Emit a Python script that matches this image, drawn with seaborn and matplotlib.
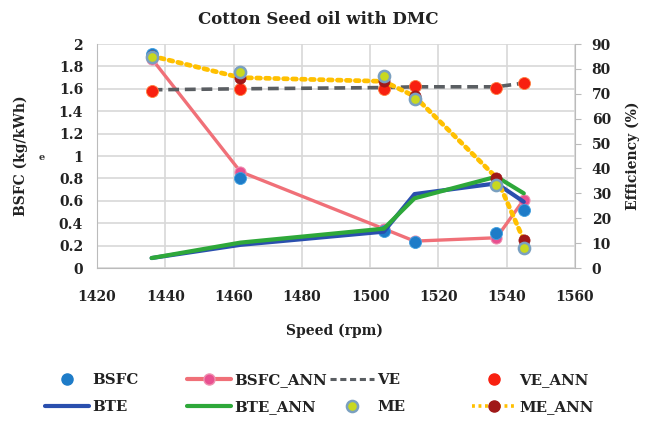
import matplotlib
matplotlib.use("Agg")
import matplotlib.pyplot as plt
import seaborn as sns
import pandas as pd
from matplotlib.lines import Line2D

speed = [1436, 1462, 1504, 1513, 1537, 1545]
bsfc = [1.91, 0.80, 0.33, 0.23, 0.31, 0.52]
bsfc_ann = [1.87, 0.86, 0.35, 0.24, 0.27, 0.61]
bte = [4.0, 9.3, 14.6, 29.7, 34.0, 26.6]
bte_ann = [4.0, 10.2, 15.8, 28.0, 36.7, 30.0]
ve = [71.6, 72.0, 72.5, 72.8, 72.8, 74.3]
ve_ann = [71.1, 72.0, 72.0, 73.0, 72.4, 74.4]
me = [84.9, 78.8, 77.0, 68.0, 33.4, 8.0]
me_ann = [85.2, 76.5, 75.0, 69.0, 36.3, 11.2]

df = pd.DataFrame(dict(speed=speed, bsfc=bsfc, bsfc_ann=bsfc_ann, bte=bte,
                       bte_ann=bte_ann, ve=ve, ve_ann=ve_ann, me=me, me_ann=me_ann))

sns.set_style("white")
plt.rcParams['font.family'] = ['DejaVu Serif']
plt.rcParams['font.weight'] = 'bold'

W, H = 646, 423
fig = plt.figure(figsize=(6.46, 4.23), dpi=100)
L, R, T, B = 97, 575, 44, 268
ax = fig.add_axes([L/W, 1-B/H, (R-L)/W, (B-T)/H])
ax2 = ax.twinx()

c_bsfc = "#1e7cc8"
c_bsfc_ann = "#f07078"
c_bsfc_ann_m = "#e85090"
c_ve = "#5a5e62"
c_ve_ann = "#f82010"
c_bte = "#2a4fae"
c_bte_ann = "#2ea83a"
c_me = "#c8d820"
c_me_edge = "#7aa0c0"
c_me_ann = "#ffc000"
c_me_ann_m = "#a01818"
txt = "#222222"

# left axis series
sns.lineplot(data=df, x="speed", y="bsfc_ann", ax=ax, color=c_bsfc_ann, lw=2.4, marker="o", markersize=8,
             markerfacecolor=c_bsfc_ann_m, markeredgecolor="#f090b0", zorder=3)
sns.scatterplot(data=df, x="speed", y="bsfc", ax=ax, color=c_bsfc, s=75, edgecolor="#40a0e0", linewidth=0.6, zorder=4)

# right axis series
sns.lineplot(data=df, x="speed", y="bte", ax=ax2, color=c_bte, lw=3.0, zorder=3)
sns.lineplot(data=df, x="speed", y="bte_ann", ax=ax2, color=c_bte_ann, lw=3.0, zorder=3)
sns.lineplot(data=df, x="speed", y="ve", ax=ax2, color=c_ve, lw=2.6, linestyle=(0, (3, 1.6)), zorder=3)
sns.scatterplot(data=df, x="speed", y="ve_ann", ax=ax2, color=c_ve_ann, s=75, edgecolor="#ff8040", linewidth=0.6, zorder=4)
sns.lineplot(data=df, x="speed", y="me_ann", ax=ax2, color=c_me_ann, lw=3.4, linestyle=(0, (0.8, 1.1)),
             dash_capstyle="round", zorder=4.2)
sns.scatterplot(data=df, x="speed", y="me_ann", ax=ax2, color=c_me_ann_m, s=65, edgecolor=c_me_ann_m, linewidth=0.5, zorder=4.5)
sns.scatterplot(data=df, x="speed", y="me", ax=ax2, color=c_me, s=65, edgecolor=c_me_edge, linewidth=1.8, zorder=5)

ax.set_xlim(1420, 1560)
ax.set_ylim(0, 2)
ax2.set_ylim(0, 90)
ax.set_xticks(range(1420, 1561, 20))
ax.set_yticks([i * 0.2 for i in range(11)])
ax.set_yticklabels(["0", "0.2", "0.4", "0.6", "0.8", "1", "1.2", "1.4", "1.6", "1.8", "2"])
ax2.set_yticks(range(0, 91, 10))

ax.grid(True, color="#d8d8d8", lw=1.2)
ax.set_axisbelow(True)
for a in (ax, ax2):
    for s in a.spines.values():
        s.set_visible(False)
ax.spines['left'].set_visible(True)
ax.spines['left'].set_color("#bbbbbb")
ax.spines['bottom'].set_visible(True)
ax.spines['bottom'].set_color("#bbbbbb")
ax2.spines['right'].set_visible(True)
ax2.spines['right'].set_color("#bbbbbb")

tick_kw = dict(labelsize=10, colors=txt)
ax.tick_params(axis="both", length=0, pad=10, **tick_kw)
ax.tick_params(axis="x", pad=16)
ax2.tick_params(axis="y", length=4, color="#bbbbbb", direction="out", pad=8, **tick_kw)
for lab in ax.get_xticklabels() + ax.get_yticklabels() + ax2.get_yticklabels():
    lab.set_fontweight("bold")

ax.set_xlabel("")
ax.set_ylabel("")
ax2.set_ylabel("")
fig.text(335/W, 1-331/H, "Speed (rpm)", fontsize=10, fontweight="bold", ha="center", va="center", color=txt)
fig.text(21/W, 1-156/H, "BSFC (kg/kWh)", rotation=90, fontsize=10, fontweight="bold",
         ha="center", va="center", color=txt)
fig.text(633/W, 1-156/H, "Efficiency (%)", rotation=90, fontsize=10, fontweight="bold",
         ha="center", va="center", color=txt)
fig.text(318/W, 1-20/H, "Cotton Seed oil with DMC", fontsize=12, fontweight="bold",
         ha="center", va="center", color=txt)
fig.text(42/W, 1-157/H, "e", fontsize=7, fontweight="bold", ha="center", va="center", color="#333333")

h_bsfc = Line2D([], [], ls="none", marker="o", markersize=8, color=c_bsfc)
h_bte = Line2D([], [], color=c_bte, lw=3)
h_bsfc_ann = Line2D([], [], color=c_bsfc_ann, lw=3, marker="o", markersize=8,
                    markerfacecolor=c_bsfc_ann_m, markeredgecolor="#f090b0")
h_bte_ann = Line2D([], [], color=c_bte_ann, lw=3)
h_ve = Line2D([], [], color=c_ve, lw=2.2, linestyle=(0, (2, 1.2)))
h_me = Line2D([], [], ls="none", marker="o", markersize=8, markerfacecolor=c_me,
              markeredgecolor=c_me_edge, markeredgewidth=1.8)
h_ve_ann = Line2D([], [], ls="none", marker="o", markersize=8, color=c_ve_ann)
h_me_ann = Line2D([], [], color=c_me_ann, lw=2.6, linestyle=(0, (0.8, 1.0)), marker="o", markersize=8,
                  markerfacecolor=c_me_ann_m, markeredgecolor=c_me_ann_m)

columns = [
    (45, [h_bsfc, h_bte], ["BSFC", "BTE"]),
    (187, [h_bsfc_ann, h_bte_ann], ["BSFC_ANN", "BTE_ANN"]),
    (330, [h_ve, h_me], ["VE", "ME"]),
    (472, [h_ve_ann, h_me_ann], ["VE_ANN", "ME_ANN"]),
]
for x0, hs, ls in columns:
    leg = fig.legend(hs, ls, loc="upper left", bbox_to_anchor=(x0/W, 1-373/H),
                     frameon=False, fontsize=10.8, handlelength=2.95, handletextpad=0.2,
                     labelspacing=0.85, borderaxespad=0, borderpad=0)
    for t in leg.get_texts():
        t.set_fontweight("bold")
        t.set_color(txt)

fig.savefig("out.png", dpi=100)
